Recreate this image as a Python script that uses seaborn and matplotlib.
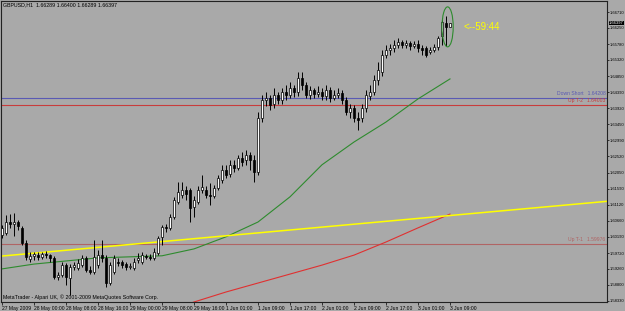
import numpy as np
import pandas as pd
import matplotlib
matplotlib.use("Agg")
import matplotlib.pyplot as plt
import seaborn as sns
from matplotlib.patches import Ellipse

# ---------------- data (GBPUSD H1) ----------------
opens = [1.6024, 1.6030, 1.6062, 1.6056, 1.6062, 1.6045, 1.6001, 1.5955, 1.5964, 1.5966,
         1.5961, 1.5969, 1.5966, 1.5958, 1.5903, 1.5909, 1.5937, 1.5900, 1.5932, 1.5929,
         1.5937, 1.5958, 1.5923, 1.5917, 1.5937, 1.5966, 1.5958, 1.5885, 1.5917, 1.5946,
         1.5946, 1.5940, 1.5932, 1.5929, 1.5952, 1.5946, 1.5964, 1.5961, 1.5958, 1.5972,
         1.6019, 1.6048, 1.6045, 1.6077, 1.6120, 1.6141, 1.6155, 1.6155, 1.6106, 1.6120,
         1.6155, 1.6155, 1.6141, 1.6138, 1.6161, 1.6184, 1.6213, 1.6201, 1.6228, 1.6219,
         1.6248, 1.6242, 1.6256, 1.6242, 1.6207, 1.6364, 1.6416, 1.6422, 1.6404, 1.6431,
         1.6416, 1.6439, 1.6431, 1.6451, 1.6439, 1.6480, 1.6460, 1.6431, 1.6445, 1.6433,
         1.6439, 1.6428, 1.6445, 1.6422, 1.6431, 1.6436, 1.6416, 1.6381, 1.6393, 1.6364,
         1.6364, 1.6393, 1.6428, 1.6439, 1.6474, 1.6497, 1.6547, 1.6561, 1.6567, 1.6575,
         1.6584, 1.6575, 1.6581, 1.6573, 1.6578, 1.6567, 1.6567, 1.6555, 1.6561, 1.6570,
         1.6602, 1.6639, 1.66289]
highs = [1.6054, 1.6082, 1.6085, 1.6088, 1.6068, 1.6051, 1.6010, 1.5975, 1.5975, 1.5975,
         1.5975, 1.5978, 1.5969, 1.5964, 1.5917, 1.5946, 1.5943, 1.5940, 1.5946, 1.5955,
         1.5966, 1.5964, 1.5935, 1.6010, 1.5981, 1.6010, 1.5966, 1.5946, 1.5966, 1.5958,
         1.5952, 1.5946, 1.5943, 1.5958, 1.5972, 1.5975, 1.5969, 1.5969, 1.5987, 1.6022,
         1.6054, 1.6056, 1.6085, 1.6135, 1.6178, 1.6178, 1.6167, 1.6161, 1.6138, 1.6167,
         1.6199, 1.6167, 1.6175, 1.6170, 1.6199, 1.6228, 1.6228, 1.6242, 1.6242, 1.6256,
         1.6265, 1.6271, 1.6265, 1.6256, 1.6381, 1.6431, 1.6439, 1.6431, 1.6451, 1.6439,
         1.6451, 1.6460, 1.6468, 1.6460, 1.6497, 1.6497, 1.6468, 1.6457, 1.6451, 1.6457,
         1.6451, 1.6460, 1.6454, 1.6445, 1.6451, 1.6445, 1.6425, 1.6404, 1.6402, 1.6381,
         1.6404, 1.6445, 1.6460, 1.6488, 1.6526, 1.6561, 1.6575, 1.6578, 1.6590, 1.6596,
         1.6590, 1.6590, 1.6587, 1.6587, 1.6590, 1.6575, 1.6573, 1.6570, 1.6578, 1.6602,
         1.6654, 1.6660, 1.66400]
lows = [1.6016, 1.6024, 1.6045, 1.6022, 1.6039, 1.5995, 1.5952, 1.5946, 1.5952, 1.5952,
        1.5955, 1.5958, 1.5946, 1.5897, 1.5894, 1.5903, 1.5880, 1.5851, 1.5923, 1.5923,
        1.5932, 1.5917, 1.5911, 1.5911, 1.5929, 1.5946, 1.5874, 1.5880, 1.5911, 1.5935,
        1.5929, 1.5923, 1.5926, 1.5923, 1.5943, 1.5940, 1.5955, 1.5952, 1.5952, 1.5966,
        1.5995, 1.6033, 1.6039, 1.6071, 1.6114, 1.6132, 1.6126, 1.6062, 1.6077, 1.6114,
        1.6146, 1.6132, 1.6112, 1.6132, 1.6155, 1.6175, 1.6190, 1.6193, 1.6207, 1.6213,
        1.6225, 1.6228, 1.6213, 1.6178, 1.6199, 1.6352, 1.6399, 1.6387, 1.6393, 1.6404,
        1.6404, 1.6416, 1.6422, 1.6425, 1.6428, 1.6445, 1.6422, 1.6419, 1.6422, 1.6425,
        1.6416, 1.6416, 1.6410, 1.6416, 1.6422, 1.6404, 1.6373, 1.6364, 1.6352, 1.6329,
        1.6352, 1.6381, 1.6416, 1.6431, 1.6460, 1.6486, 1.6538, 1.6547, 1.6555, 1.6567,
        1.6567, 1.6567, 1.6561, 1.6567, 1.6555, 1.6547, 1.6541, 1.6549, 1.6555, 1.6561,
        1.6575, 1.6573, 1.66289]
closes = [1.6045, 1.6062, 1.6056, 1.6062, 1.6051, 1.6001, 1.5961, 1.5964, 1.5969, 1.5961,
          1.5969, 1.5966, 1.5958, 1.5903, 1.5909, 1.5937, 1.5903, 1.5932, 1.5937, 1.5943,
          1.5958, 1.5923, 1.5917, 1.5961, 1.5966, 1.5958, 1.5885, 1.5937, 1.5958, 1.5943,
          1.5937, 1.5932, 1.5935, 1.5946, 1.5958, 1.5966, 1.5961, 1.5958, 1.5975, 1.6016,
          1.6048, 1.6045, 1.6077, 1.6126, 1.6149, 1.6155, 1.6143, 1.6103, 1.6126, 1.6155,
          1.6164, 1.6141, 1.6138, 1.6161, 1.6190, 1.6213, 1.6199, 1.6228, 1.6219, 1.6248,
          1.6236, 1.6256, 1.6242, 1.6207, 1.6364, 1.6416, 1.6422, 1.6402, 1.6431, 1.6416,
          1.6439, 1.6431, 1.6451, 1.6439, 1.6480, 1.6460, 1.6431, 1.6445, 1.6433, 1.6439,
          1.6428, 1.6445, 1.6422, 1.6431, 1.6436, 1.6416, 1.6381, 1.6393, 1.6364, 1.6358,
          1.6393, 1.6431, 1.6439, 1.6474, 1.6503, 1.6547, 1.6561, 1.6567, 1.6575, 1.6584,
          1.6575, 1.6581, 1.6573, 1.6578, 1.6567, 1.6561, 1.6547, 1.6561, 1.6570, 1.6596,
          1.6642, 1.66289, 1.66397]

# moving averages read every 8 bars
ma_green_bars = [0, 8, 16, 24, 32, 40, 48, 56, 64, 72, 80, 88, 96, 104, 112]
ma_green_vals = [1.5926, 1.5940, 1.5949, 1.5958, 1.5961, 1.5964, 1.5984, 1.6019, 1.6062,
                 1.6135, 1.6228, 1.6294, 1.6352, 1.6419, 1.6477]
ma_red_bars = [47, 48, 56, 64, 72, 80, 88, 96, 104, 112]
ma_red_vals = [1.5826, 1.5830, 1.5859, 1.5885, 1.5911, 1.5937, 1.5966, 1.6004, 1.6045, 1.6085]

# yellow trendline endpoints (bar, price)
trend_bars = [-0.25, 151.25]
trend_vals = [1.5963, 1.6122]

# horizontal levels
level_names = ["Down Short", "Up T-2", "Up T-1"]
level_vals = [1.64208, 1.64003, 1.59976]
level_cols = ["#5a5ab4", "#c83c3c", "#b06464"]

x_tick_bars = [0, 8, 16, 24, 32, 40, 48, 56, 64, 72, 80, 88, 96, 104, 112]
x_tick_labels = ["27 May 2009", "28 May 00:00", "28 May 08:00", "28 May 16:00",
                 "29 May 00:00", "29 May 08:00", "29 May 16:00", "1 Jun 01:00",
                 "1 Jun 09:00", "1 Jun 17:00", "2 Jun 01:00", "2 Jun 09:00",
                 "2 Jun 17:00", "3 Jun 01:00", "3 Jun 09:00"]
y_ticks = [1.66710, 1.66250, 1.65780, 1.65320, 1.64850, 1.64390, 1.63920, 1.63450,
           1.62990, 1.62520, 1.62050, 1.61590, 1.61120, 1.60660, 1.60190, 1.59720,
           1.59260, 1.58800, 1.58330]

header = "GBPUSD,H1  1.66289 1.66400 1.66289 1.66397"
footer = "MetaTrader - Alpari UK, \u00a9 2001-2009 MetaQuotes Software Corp."
timer_text = "<--59:44"
last_price = 1.66397

# ---------------- drawing ----------------
plt.rcParams["font.family"] = ["Liberation Sans", "DejaVu Sans"]
BG = "#a9a9a9"
W, H = 625, 311
fig = plt.figure(figsize=(W / 100, H / 100), dpi=100, facecolor=BG)
ax = fig.add_axes([1 / W, 9 / H, 606 / W, 301 / H], facecolor=BG)

df = pd.DataFrame({"bar": np.arange(len(opens)), "open": opens, "high": highs,
                   "low": lows, "close": closes})

# wicks
ax.vlines(df["bar"], df["low"], df["high"], color="black", lw=0.7, zorder=3)
# bodies
up = df["close"] >= df["open"]
body_bottom = np.minimum(df["open"], df["close"])
body_h = np.maximum(np.abs(df["close"] - df["open"]), 0.00006)
ax.bar(df["bar"][up], body_h[up], bottom=body_bottom[up], width=0.72,
       color="white", edgecolor="black", lw=0.5, zorder=4)
ax.bar(df["bar"][~up], body_h[~up], bottom=body_bottom[~up], width=0.72,
       color="black", edgecolor="black", lw=0.5, zorder=4)

# moving averages & trendline via seaborn
sns.lineplot(x=ma_green_bars, y=ma_green_vals, ax=ax, color="#2e8b2e", lw=0.8, zorder=2)
sns.lineplot(x=ma_red_bars, y=ma_red_vals, ax=ax, color="#e03030", lw=0.8, zorder=2)
sns.lineplot(x=trend_bars, y=trend_vals, ax=ax, color="#ffff00", lw=1.1, zorder=2)

# horizontal levels with labels
for name, val, col in zip(level_names, level_vals, level_cols):
    ax.axhline(val, color=col, lw=0.8, zorder=1)
    ax.text(150.9, val + 0.0006, f"{name}   {val:.5f}", color=col, fontsize=3.6,
            ha="right", va="bottom")

# ellipse around latest bars
ax.add_patch(Ellipse((111.4, 1.6628), 2.8, 0.0116, fill=False, edgecolor="#2e8b2e", lw=0.8,
                     zorder=5))
ax.text(115.3, 1.6628, timer_text, color="#ffff00", fontsize=7, va="center", ha="left")

ax.set_xlim(-0.25, 151.25)
ax.set_ylim(1.58300, 1.67030)

ax.yaxis.tick_right()
ax.set_yticks(y_ticks)
ax.set_yticklabels([f"{v:.5f}" for v in y_ticks])
ax.tick_params(axis="y", length=1.5, width=0.5, labelsize=3.0, pad=0.5, colors="black")
ax.set_xticks(x_tick_bars)
ax.set_xticklabels(x_tick_labels)
ax.tick_params(axis="x", length=2, width=0.5, labelsize=3.6, pad=1, colors="black")
for lab in ax.get_xticklabels():
    lab.set_horizontalalignment("left")
ax.set_xlabel("")
ax.set_ylabel("")
for s in ax.spines.values():
    s.set_color("#222222")
    s.set_linewidth(0.8)

# last price marker on axis
fig.text(609 / W, 1 - 23 / H, f"{last_price:.5f}", color="white", fontsize=3.0,
         va="center", ha="left",
         bbox=dict(facecolor="black", edgecolor="none", pad=0.3))

fig.text(3 / W, 1 - 5 / H, header, fontsize=3.8, color="black", va="center", ha="left")
fig.text(3 / W, 1 - 297 / H, footer, fontsize=3.8, color="black", va="center", ha="left")

fig.savefig("out.png", dpi=100, facecolor=BG)
